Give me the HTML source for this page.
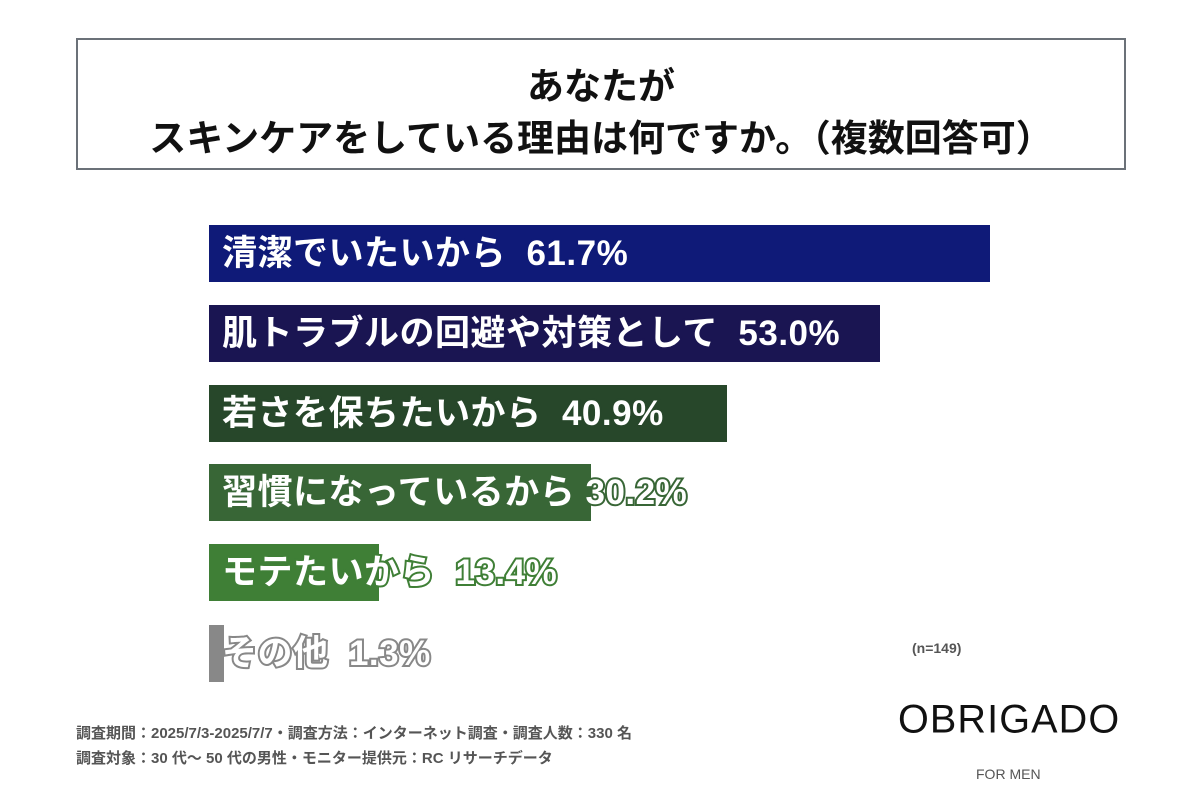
<!DOCTYPE html>
<html><head><meta charset="utf-8"><style>
body{margin:0;width:1200px;height:800px;background:#fff;position:relative;overflow:hidden;font-family:"Liberation Sans","Noto Sans CJK JP",sans-serif}
.box{position:absolute;left:76px;top:38px;width:1046px;height:128px;border:2px solid #6b7178}
.t{position:absolute;left:0;width:100%;text-align:center;font-weight:bold;font-size:37px;color:#111}
.bar{position:absolute;left:209px;height:57px}
.lbl{position:absolute;left:222px;font-weight:bold;font-size:35px;letter-spacing:0.5px;color:#fff;white-space:nowrap;-webkit-text-stroke:4px var(--c);paint-order:stroke fill;line-height:57px}
.foot{position:absolute;left:76px;font-size:15px;font-weight:bold;color:#555}
</style></head><body>
<div class="box">
<div class="t" style="top:16px">あなたが</div>
<div class="t" style="top:68px">スキンケアをしている理由は何ですか。（複数回答可）</div>
</div>
<div class="bar" style="top:225px;width:781px;background:#0f1a78"></div>
<div class="lbl" style="top:225px;--c:#0f1a78">清潔でいたいから&nbsp; 61.7%</div>
<div class="bar" style="top:305px;width:671px;background:#1a1552"></div>
<div class="lbl" style="top:305px;--c:#1a1552">肌トラブルの回避や対策として&nbsp; 53.0%</div>
<div class="bar" style="top:385px;width:518px;background:#27472a"></div>
<div class="lbl" style="top:385px;--c:#27472a">若さを保ちたいから&nbsp; 40.9%</div>
<div class="bar" style="top:464px;width:382px;background:#386636"></div>
<div class="lbl" style="top:464px;--c:#386636">習慣になっているから&nbsp;30.2%</div>
<div class="bar" style="top:544px;width:170px;background:#3f7f36"></div>
<div class="lbl" style="top:544px;--c:#3f7f36">モテたいから&nbsp; 13.4%</div>
<div class="bar" style="top:625px;width:15px;background:#888"></div>
<div class="lbl" style="top:625px;--c:#888">その他&nbsp;&nbsp;1.3%</div>
<div style="position:absolute;left:912px;top:640px;font-size:14px;font-weight:bold;color:#555">(n=149)</div>
<div class="foot" style="top:722px">調査期間：2025/7/3-2025/7/7・調査方法：インターネット調査・調査人数：330 名</div>
<div class="foot" style="top:747px">調査対象：30 代～ 50 代の男性・モニター提供元：RC リサーチデータ</div>
<div style="position:absolute;left:898px;top:696px;font-family:'Liberation Sans',sans-serif;font-size:36px;color:#111;letter-spacing:1px;transform:scaleX(1.1) scaleY(1.1);transform-origin:left top">OBRIGADO</div>
<div style="position:absolute;left:976px;top:766px;font-size:14px;color:#555">FOR MEN</div>
</body></html>
